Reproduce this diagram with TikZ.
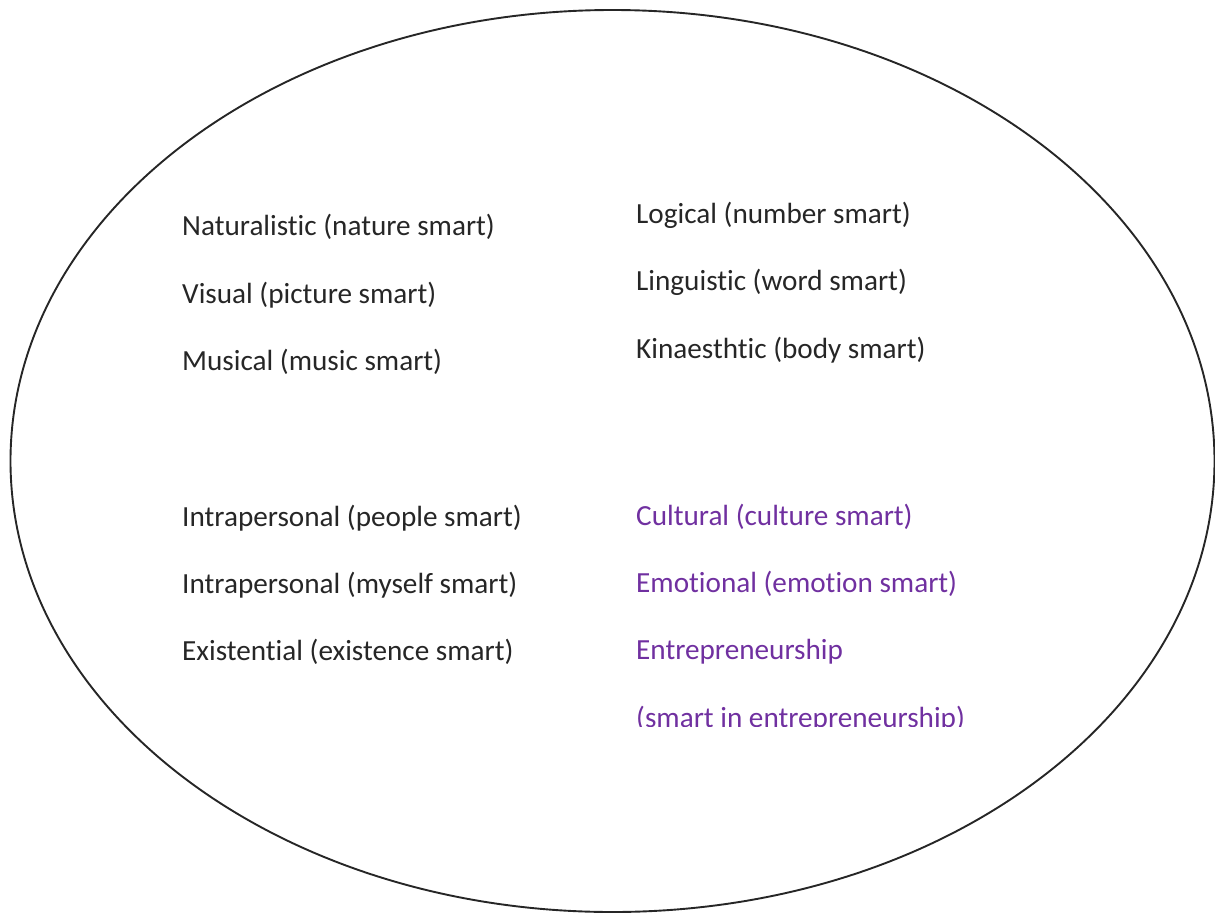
\documentclass[tikz,border=0pt]{standalone}
\usepackage{fontspec}
\setmainfont[Ligatures={NoCommon}]{Carlito}
\definecolor{txtpurple}{HTML}{7030A0}
\begin{document}
\begin{tikzpicture}[x=1pt,y=-1pt,
  lbl/.style={anchor=base west, inner sep=0pt, font=\fontsize{29.2}{35}\selectfont, text=black!85},
  purp/.style={lbl, text=txtpurple}]
\useasboundingbox (0,0) rectangle (1215,913);
\draw[line width=1.9pt, black!85] (612.5,461) ellipse [x radius=602pt, y radius=451pt];
% left top group
\node[lbl] (nat) at (182,235) {Naturalistic (nature smart)};
\node[lbl] (vis) at (182,303) {Visual (picture smart)};
\node[lbl] (mus) at (182,370) {Musical (music smart)};
% right top group
\node[lbl] (log) at (636,223) {Logical (number smart)};
\node[lbl] (lin) at (636,290) {Linguistic (word smart)};
\node[lbl] (kin) at (636,358) {Kinaesthtic (body smart)};
% left bottom group
\node[lbl] (int1) at (182,526) {Intrapersonal (people smart)};
\node[lbl] (int2) at (182,593) {Intrapersonal (myself smart)};
\node[lbl] (exi) at (182,660) {Existential (existence smart)};
% right bottom group
\node[purp] (cul) at (636,525) {Cultural (culture smart)};
\node[purp] (emo) at (636,592) {Emotional (emotion smart)};
\node[purp] (ent) at (636,659) {Entrepreneurship};
\begin{scope}
\clip (600,680) rectangle (1010,726);
\node[purp] (ent2) at (636,727) {(smart in entrepreneurship)};
\end{scope}
\end{tikzpicture}
\end{document}
